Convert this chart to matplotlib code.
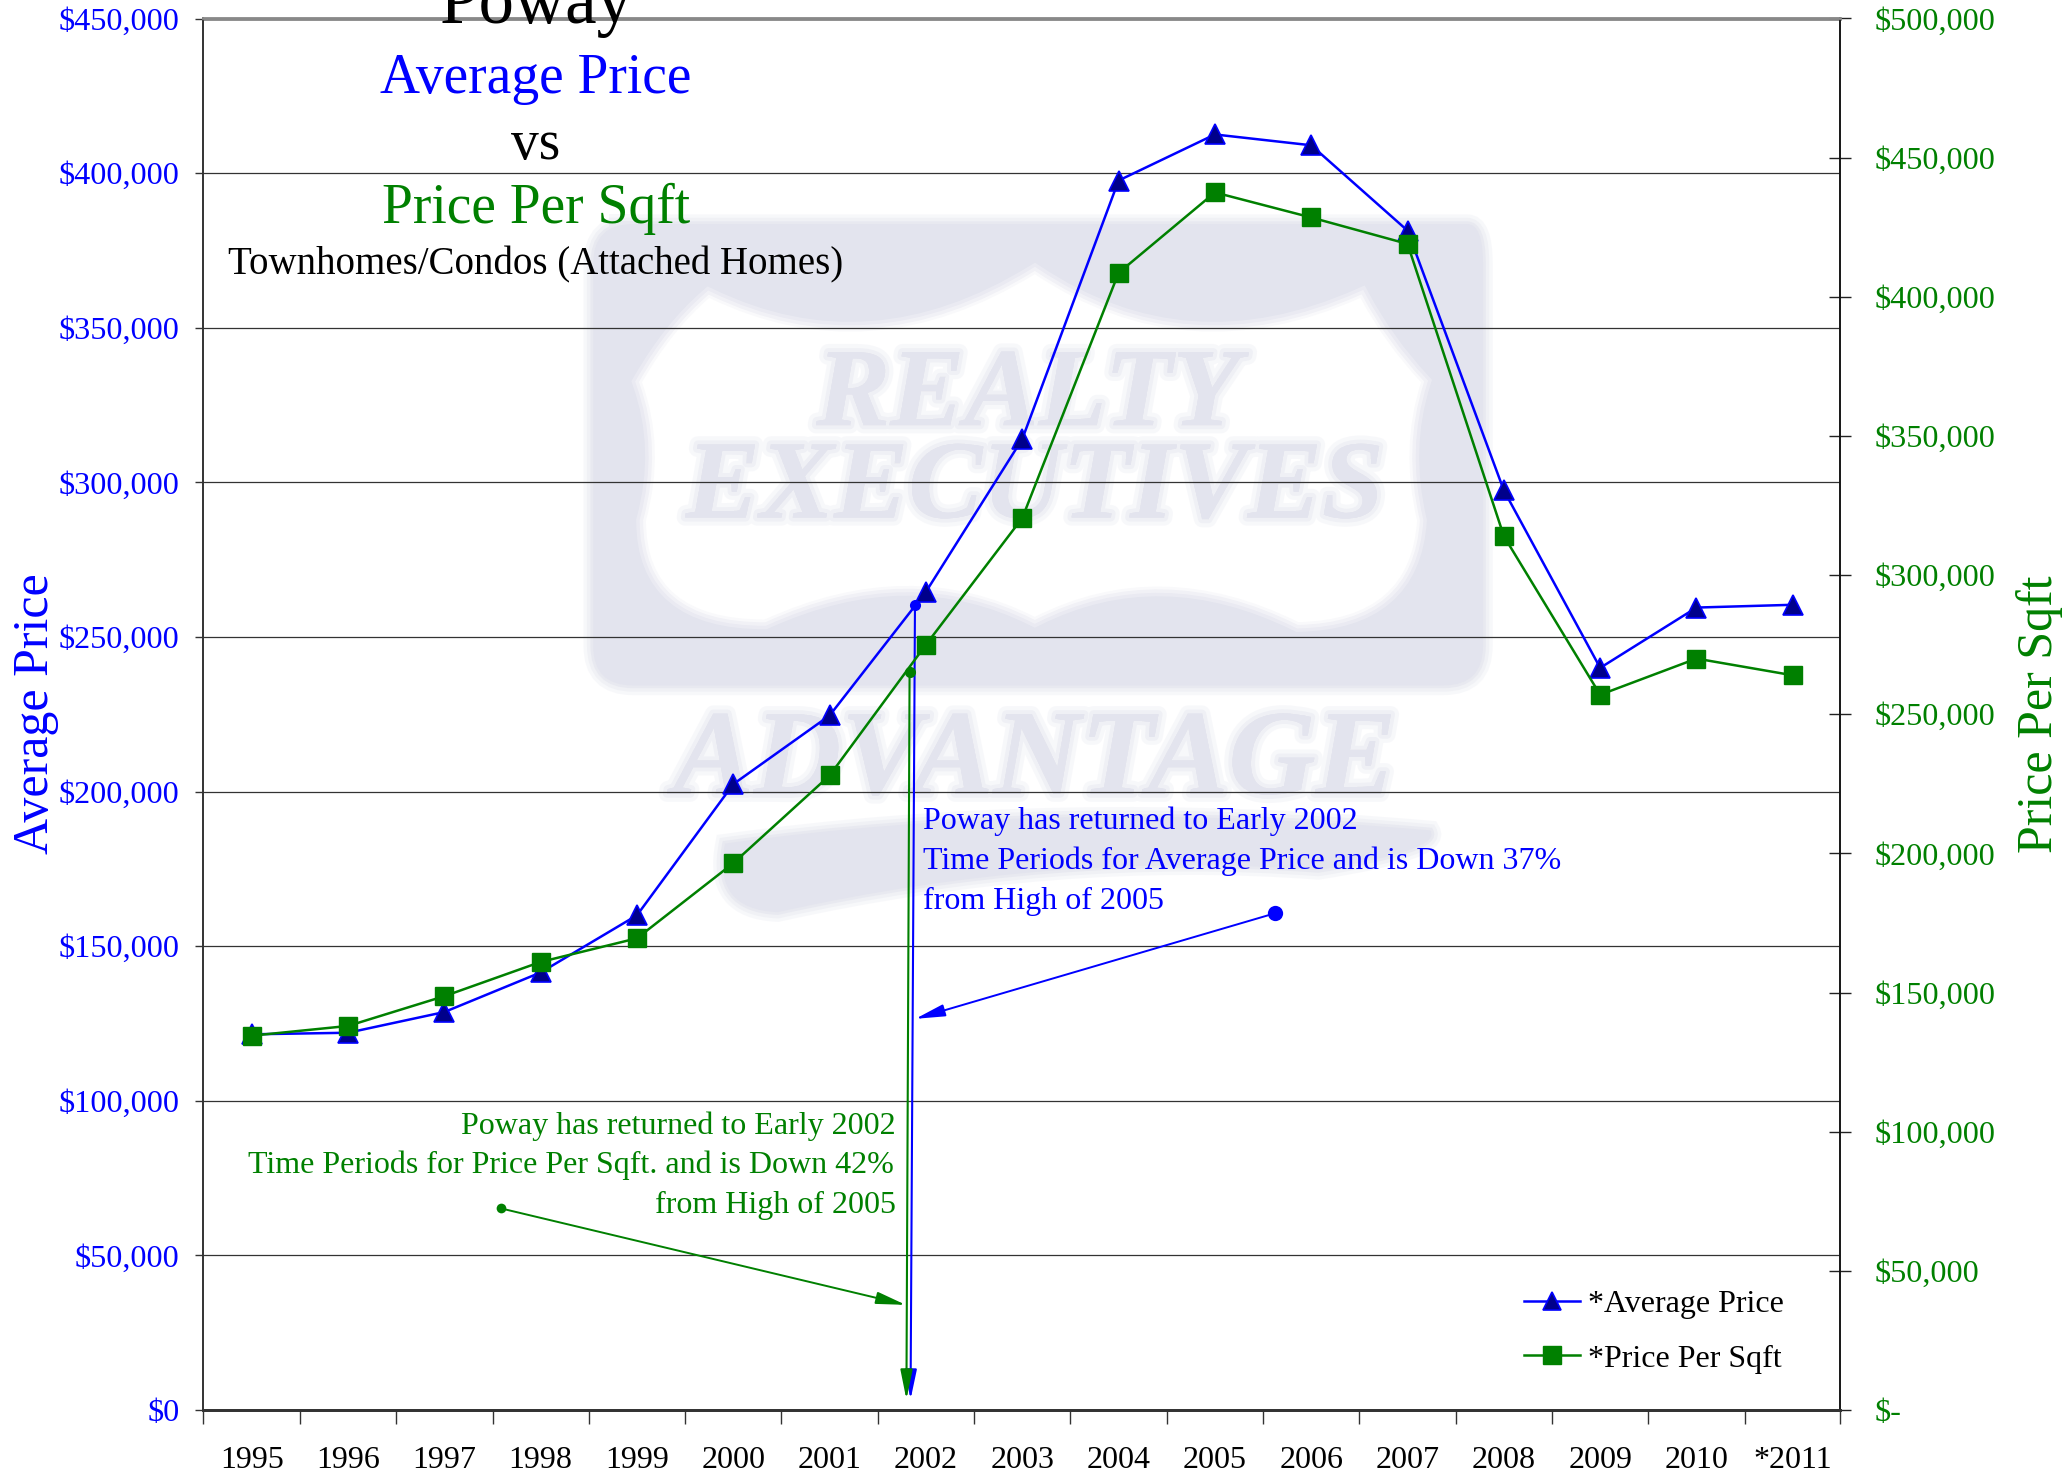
import matplotlib
matplotlib.use('Agg')
import matplotlib.pyplot as plt
import matplotlib.patheffects as pe
from matplotlib.patches import PathPatch
from matplotlib.path import Path
from matplotlib.ticker import FixedLocator, FixedFormatter

plt.rcParams['font.family'] = ['Liberation Serif', 'DejaVu Serif']

years = ['1995', '1996', '1997', '1998', '1999', '2000', '2001', '2002', '2003',
         '2004', '2005', '2006', '2007', '2008', '2009', '2010', '*2011']
avg_price = [121500, 122000, 128700, 141500, 160000, 202400, 224600, 264600, 314000,
             397600, 412500, 409000, 381400, 297400, 240000, 259500, 260400]
price_sqft = [134500, 138000, 148700, 161000, 169500, 196500, 228000, 275000, 320500,
              408600, 437500, 428500, 419000, 314000, 257000, 270000, 264000]

left_ticks = [0, 50000, 100000, 150000, 200000, 250000, 300000, 350000, 400000, 450000]
right_ticks = [0, 50000, 100000, 150000, 200000, 250000, 300000, 350000, 400000, 450000, 500000]
right_labels = ['$-'] + [f'${v:,}' for v in right_ticks[1:]]

# callout lines, in data units of the left axis
blue_drop = ([6.886, 6.84], [260400, 3400])
green_drop = ([6.83, 6.797], [238600, 3400])
blue_pointer = ([10.62, 6.89], [160600, 126500])
green_pointer = ([2.587, 6.79], [65200, 34000])

BLUE = '#0000ff'
GREEN = '#008000'
LOGO = '#e3e4ee'
W, H = 2067, 1475

fig = plt.figure(figsize=(W / 100, H / 100), dpi=100)

# watermark, drawn in the coordinates of the shrunk picture
bg = fig.add_axes([0, 0, 1, 1], zorder=0)
bg.set_xlim(0, 1568)
bg.set_ylim(1119, 0)
bg.axis('off')
soft = [pe.withStroke(linewidth=12, foreground=LOGO, alpha=0.25),
        pe.withStroke(linewidth=6, foreground=LOGO, alpha=0.4), pe.Normal()]


def add_soft(pts, color):
    # stacked wide strokes stand in for the blurred edge of the logo
    path = Path([p for c, p in pts], [c for c, p in pts])
    for lw, a in [(14, 0.25), (9, 0.35), (4, 0.6)]:
        bg.add_patch(PathPatch(path, fc='none', ec=color, lw=lw, alpha=a))
    bg.add_patch(PathPatch(path, fc=color, ec='none'))


box = [(Path.MOVETO, (462, 170)), (Path.LINETO, (1113, 170)),
       (Path.CURVE3, (1125, 170)), (Path.CURVE3, (1125, 200)), (Path.LINETO, (1125, 490)),
       (Path.CURVE3, (1125, 520)), (Path.CURVE3, (1095, 520)), (Path.LINETO, (480, 520)),
       (Path.CURVE3, (450, 520)), (Path.CURVE3, (450, 490)), (Path.LINETO, (450, 200)),
       (Path.CURVE3, (450, 170)), (Path.CURVE3, (480, 170)), (Path.CLOSEPOLY, (462, 170))]
add_soft(box, LOGO)
shield = [(Path.MOVETO, (487, 290)), (Path.CURVE3, (510, 250)), (Path.CURVE3, (538, 226)),
          (Path.CURVE3, (660, 285)), (Path.CURVE3, (785, 208)),
          (Path.CURVE3, (900, 285)), (Path.CURVE3, (1032, 226)),
          (Path.CURVE3, (1050, 260)), (Path.CURVE3, (1078, 290)),
          (Path.CURVE3, (1062, 340)), (Path.CURVE3, (1075, 395)),
          (Path.CURVE3, (1070, 470)), (Path.CURVE3, (985, 472)),
          (Path.CURVE3, (880, 420)), (Path.CURVE3, (785, 468)),
          (Path.CURVE3, (690, 420)), (Path.CURVE3, (580, 470)),
          (Path.CURVE3, (490, 470)), (Path.CURVE3, (490, 395)),
          (Path.CURVE3, (505, 340)), (Path.CURVE3, (487, 290)), (Path.CLOSEPOLY, (487, 290))]
add_soft(shield, 'white')
band = [(Path.MOVETO, (550, 640)), (Path.CURVE3, (800, 605)), (Path.CURVE3, (1085, 630)),
        (Path.CURVE3, (1095, 645)), (Path.CURVE3, (1000, 660)),
        (Path.CURVE3, (800, 645)), (Path.CURVE3, (590, 692)),
        (Path.CURVE3, (540, 690)), (Path.CURVE3, (550, 640)), (Path.CLOSEPOLY, (550, 640))]
add_soft(band, LOGO)
for txt, x, y, size in [('REALTY', 780, 302, 80), ('EXECUTIVES', 785, 372, 80), ('ADVANTAGE', 785, 580, 87)]:
    bg.text(x, y, txt, color=LOGO, fontsize=size, fontweight='bold', style='italic',
            ha='center', va='center', path_effects=soft)

ax = fig.add_axes([203 / W, 1 - 1410 / H, 1637 / W, 1391.5 / H], zorder=2)
ax.patch.set_alpha(0)
ax2 = ax.twinx()
ax2.patch.set_alpha(0)

x = list(range(len(years)))
ax.plot(x, avg_price, color=BLUE, lw=1.8, marker='^', ms=14, mfc='#00008b', mec=BLUE, mew=1.2,
        label='*Average Price', zorder=4)
ax2.plot(x, price_sqft, color=GREEN, lw=1.8, marker='s', ms=13.5, mfc=GREEN, mec=GREEN,
         label='*Price Per Sqft', zorder=4)

ax.set_xlim(-0.506, 16.49)
ax.set_ylim(0, 450000)
ax2.set_ylim(0, 500000)
ax.set_yticks(left_ticks)
ax.set_yticklabels([f'${v:,}' for v in left_ticks], color=BLUE, fontsize=23.2)
ax.yaxis.grid(True, color='#333333', lw=0.9)
ax.set_axisbelow(True)
ax.xaxis.set_major_locator(FixedLocator([-0.506] + [i + 0.5 for i in x[:-1]] + [16.49]))
ax.xaxis.set_major_formatter(FixedFormatter([]))
ax.xaxis.set_minor_locator(FixedLocator(x))
ax.xaxis.set_minor_formatter(FixedFormatter(years))
ax.tick_params(axis='x', which='major', length=10, width=1, color='#333333')
ax.tick_params(axis='x', which='minor', length=0, labelsize=23, pad=26)
ax.tick_params(axis='y', length=6, width=1, color='#333333', pad=11)
ax2.set_yticks(right_ticks)
ax2.set_yticklabels(right_labels, color=GREEN, fontsize=23.2)
ax2.tick_params(axis='y', direction='inout', length=16, width=1, color='#222222', pad=17)
for a in (ax, ax2):
    for s in a.spines.values():
        s.set_color('#333333')
        s.set_linewidth(1.2)
    a.spines['top'].set_color('#888888')
    a.spines['top'].set_linewidth(2)
    a.spines['bottom'].set_linewidth(2)
ax2.spines['right'].set_color('#111111')

fig.text(0.0175, 1 - 714 / H, 'Average Price', color=BLUE, fontsize=36, rotation=90, ha='center', va='center')
fig.text(0.9865, 1 - 714 / H, 'Price Per Sqft', color=GREEN, fontsize=36, rotation=90, ha='center', va='center')

# title block
cx = 536 / W
fig.text(cx, 1 - 6 / H, 'Poway', color='black', fontsize=51, ha='center', va='center', zorder=5)
fig.text(cx, 1 - 79 / H, 'Average Price', color=BLUE, fontsize=40, ha='center', va='center', zorder=5)
fig.text(cx, 1 - 145 / H, 'vs', color='black', fontsize=40, ha='center', va='center', zorder=5)
fig.text(cx, 1 - 209 / H, 'Price Per Sqft', color=GREEN, fontsize=40, ha='center', va='center', zorder=5)
fig.text(cx, 1 - 265 / H, 'Townhomes/Condos (Attached Homes)', color='black', fontsize=28, ha='center', va='center', zorder=5)

# callouts
ax.text(923 / W, 1 - 821 / H, 'Poway has returned to Early 2002', color=BLUE, fontsize=23,
        transform=fig.transFigure, va='center')
ax.text(923 / W, 1 - 861 / H, 'Time Periods for Average Price and is Down 37%', color=BLUE, fontsize=23,
        transform=fig.transFigure, va='center')
ax.text(923 / W, 1 - 901 / H, 'from High of 2005', color=BLUE, fontsize=23,
        transform=fig.transFigure, va='center')
ax.text(896 / W, 1 - 1126 / H, 'Poway has returned to Early 2002', color=GREEN, fontsize=23,
        transform=fig.transFigure, va='center', ha='right')
ax.text(894 / W, 1 - 1165 / H, 'Time Periods for Price Per Sqft. and is Down 42%', color=GREEN, fontsize=23,
        transform=fig.transFigure, va='center', ha='right')
ax.text(896 / W, 1 - 1205 / H, 'from High of 2005', color=GREEN, fontsize=23,
        transform=fig.transFigure, va='center', ha='right')


def callout(line, color, lw, dot):
    xs, ys = line
    ax.annotate('', xy=(xs[1], ys[1]), xytext=(xs[0], ys[0]), zorder=6,
                arrowprops=dict(arrowstyle='-|>,head_length=1.8,head_width=0.37',
                                color=color, lw=lw, shrinkA=0, shrinkB=0, mutation_scale=10))
    ax.plot(xs[0], ys[0], 'o', color=color, ms=dot, mew=0, zorder=6, clip_on=False)


callout(blue_drop, BLUE, 1.5, 8)
callout(green_drop, GREEN, 1.5, 8)
callout(blue_pointer, BLUE, 1.4, 11)
callout(green_pointer, GREEN, 1.4, 7)

# legend
h1, l1 = ax.get_legend_handles_labels()
h2, l2 = ax2.get_legend_handles_labels()
ax2.legend(h1 + h2, l1 + l2, loc='lower right', bbox_to_anchor=(0.983, 0.0055), frameon=False,
           fontsize=23, labelspacing=0.78, handlelength=1.75, handletextpad=0.25, markerscale=0.95)

fig.savefig('out.png', dpi=100)
